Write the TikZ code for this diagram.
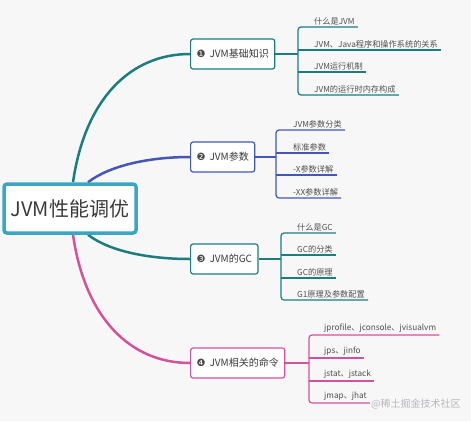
\documentclass[tikz,border=0pt]{standalone}
\usepackage{fontspec}
\setmainfont{Noto Sans CJK SC}
\newfontfamily\symfont{DejaVu Sans}
\usepackage{xcolor}
\usetikzlibrary{positioning}

\definecolor{bggray}{HTML}{F7F7F8}
\definecolor{rootblue}{HTML}{3BA6C4}
\definecolor{tealc}{HTML}{1C7D7F}
\definecolor{bluec}{HTML}{4457B8}
\definecolor{pinkc}{HTML}{D4529C}
\definecolor{textgray}{HTML}{3A3A3A}
\definecolor{leafgray}{HTML}{505050}
\definecolor{numgray}{HTML}{4A4A4A}
\definecolor{markgray}{HTML}{B8B8BC}

\pgfdeclarelayer{back}
\pgfdeclarelayer{branches}
\pgfsetlayers{back,branches,main}

\newcommand{\topicnum}[1]{{\symfont\fontsize{10}{10}\selectfont\color{numgray}#1}\hspace{4pt}}

\begin{document}
\begin{tikzpicture}[x=1pt, y=-1pt,
    root/.style={rectangle, draw=rootblue, fill=white, line width=3.5pt, rounded corners=3pt, minimum width=132pt, minimum height=49pt, font=\fontsize{20}{24}\selectfont, text=textgray},
    topic/.style={rectangle, draw=#1, fill=white, rounded corners=2.5pt, line width=1.2pt, minimum height=30pt, inner xsep=6pt, font=\fontsize{10}{12}\selectfont, text=textgray, anchor=west},
    leaf/.style={anchor=south west, inner xsep=3pt, inner ysep=2pt, font=\fontsize{8.2}{10}\selectfont, text=leafgray},
    branch/.style={draw=#1, line width=2.5pt},
    twig/.style={draw=#1, line width=1.2pt, rounded corners=3pt}
]
\begin{pgfonlayer}{back}
\path[use as bounding box, fill=bggray] (0,0) rectangle (471,421);
\end{pgfonlayer}

% Centre topic and main topics
\node[root] (root) at (70,208.5) {JVM性能调优};
\node[topic=tealc] (basic) at (190,54) {\topicnum{❶}JVM基础知识};
\node[topic=bluec] (param) at (190,157) {\topicnum{❷}JVM参数};
\node[topic=tealc] (gc) at (190,259) {\topicnum{❸}JVM的GC};
\node[topic=pinkc] (cmd) at (190,363) {\topicnum{❹}JVM相关的命令};

% Curved branches from the centre (drawn under the boxes)
\begin{pgfonlayer}{branches}
\draw[branch=tealc] ([xshift=3pt]root.north) .. controls +(12,-83) and +(-60,0) .. (basic.west);
\draw[branch=bluec] ([xshift=18pt]root.north) .. controls +(22,-17) and +(-40,0) .. (param.west);
\draw[branch=tealc] ([xshift=18pt]root.south) .. controls +(22,17) and +(-40,0) .. (gc.west);
\draw[branch=pinkc] ([xshift=3pt]root.south) .. controls +(12,83) and +(-60,0) .. (cmd.west);
\end{pgfonlayer}

% Subtopics: JVM基础知识
\coordinate (basicfork) at (298,54);
\node[leaf] (basic1) at (311,27) {什么是JVM};
\node[leaf] (basic2) at (311,50) {JVM、Java程序和操作系统的关系};
\node[leaf] (basic3) at (311,72) {JVM运行机制};
\node[leaf] (basic4) at (311,95) {JVM的运行时内存构成};
\draw[twig=tealc, line width=1.8pt] (basic.east) -- (basicfork);
\draw[twig=tealc] (basic1.south east) -- (basic1.south west -| basicfork) -- (basic4.south west -| basicfork) -- (basic4.south east);
\draw[twig=tealc] (basic2.south west -| basicfork) -- (basic2.south east);
\draw[twig=tealc] (basic3.south west -| basicfork) -- (basic3.south east);

% Subtopics: JVM参数
\coordinate (paramfork) at (276,157);
\node[leaf] (param1) at (290,130) {JVM参数分类};
\node[leaf] (param2) at (290,153) {标准参数};
\node[leaf] (param3) at (290,175) {-X参数详解};
\node[leaf] (param4) at (290,198) {-XX参数详解};
\draw[twig=bluec, line width=1.8pt] (param.east) -- (paramfork);
\draw[twig=bluec] (param1.south east) -- (param1.south west -| paramfork) -- (param4.south west -| paramfork) -- (param4.south east);
\draw[twig=bluec] (param2.south west -| paramfork) -- (param2.south east);
\draw[twig=bluec] (param3.south west -| paramfork) -- (param3.south east);

% Subtopics: JVM的GC
\coordinate (gcfork) at (281,259);
\node[leaf] (gc1) at (294,233) {什么是GC};
\node[leaf] (gc2) at (294,255) {GC的分类};
\node[leaf] (gc3) at (294,278) {GC的原理};
\node[leaf] (gc4) at (294,300) {G1原理及参数配置};
\draw[twig=tealc, line width=1.8pt] (gc.east) -- (gcfork);
\draw[twig=tealc] (gc1.south east) -- (gc1.south west -| gcfork) -- (gc4.south west -| gcfork) -- (gc4.south east);
\draw[twig=tealc] (gc2.south west -| gcfork) -- (gc2.south east);
\draw[twig=tealc] (gc3.south west -| gcfork) -- (gc3.south east);

% Subtopics: JVM相关的命令
\coordinate (cmdfork) at (309,363);
\node[leaf] (cmd1) at (321,335) {jprofile、jconsole、jvisualvm};
\node[leaf] (cmd2) at (321,358) {jps、jinfo};
\node[leaf] (cmd3) at (321,381) {jstat、jstack};
\node[leaf] (cmd4) at (321,403) {jmap、jhat};
\draw[twig=pinkc, line width=1.8pt] (cmd.east) -- (cmdfork);
\draw[twig=pinkc] (cmd1.south east) -- (cmd1.south west -| cmdfork) -- (cmd4.south west -| cmdfork) -- (cmd4.south east);
\draw[twig=pinkc] (cmd2.south west -| cmdfork) -- (cmd2.south east);
\draw[twig=pinkc] (cmd3.south west -| cmdfork) -- (cmd3.south east);

% Watermark
\node[anchor=west, font=\fontsize{10}{12}\selectfont, text=markgray, inner sep=0pt] (mark) at (371,404) {@稀土掘金技术社区};
\end{tikzpicture}
\end{document}
